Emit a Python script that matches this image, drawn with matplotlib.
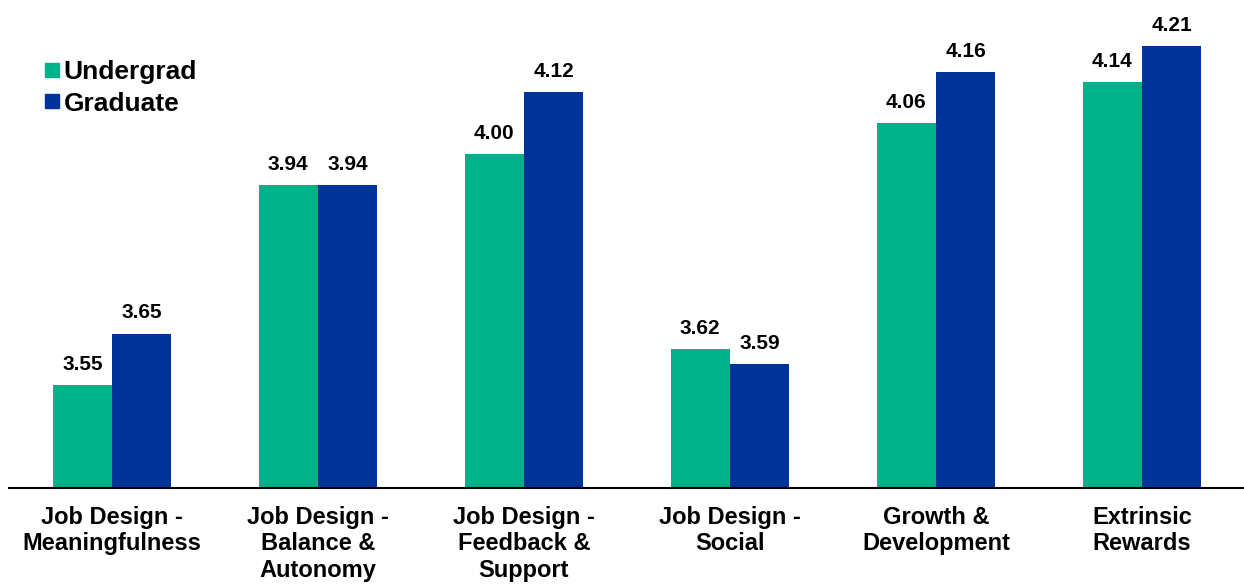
import numpy as np
import matplotlib
matplotlib.use("Agg")
import matplotlib.pyplot as plt
from matplotlib.lines import Line2D

# mean scores by dimension
categories = ["Job Design -\nMeaningfulness", "Job Design -\nBalance &\nAutonomy",
              "Job Design -\nFeedback &\nSupport", "Job Design -\nSocial",
              "Growth &\nDevelopment", "Extrinsic\nRewards"]
undergrad = [3.55, 3.94, 4.00, 3.62, 4.06, 4.14]
graduate = [3.65, 3.94, 4.12, 3.59, 4.16, 4.21]

green = "#00B189"
blue = "#003399"

plt.rcParams['font.family'] = ['Liberation Sans', 'DejaVu Sans']
plt.rcParams['font.weight'] = 'bold'

fig = plt.figure(figsize=(12.44, 5.84), dpi=100)
ax = fig.add_axes([9 / 1244, 96.5 / 584, 1240 / 1244, 487.5 / 584])

x = np.arange(len(categories))
w = 0.288
b1 = ax.bar(x - w / 2, undergrad, w, color=green)
b2 = ax.bar(x + w / 2, graduate, w, color=blue)

for bars, vals in ((b1, undergrad), (b2, graduate)):
    for r, v in zip(bars, vals):
        ax.annotate("%.2f" % v, (r.get_x() + r.get_width() / 2, v),
                    xytext=(0, 8), textcoords="offset points",
                    ha="center", va="bottom", fontsize=15, fontweight="bold")

ax.set_ylim(3.35, 4.3)
ax.set_xlim(-0.5, 5.52)
ax.set_xticks(x)
ax.set_xticklabels(categories, fontsize=17, fontweight="bold", linespacing=1.2)
ax.tick_params(axis="x", length=0, pad=13)
ax.set_yticks([])
for s in ("top", "right", "left"):
    ax.spines[s].set_visible(False)
ax.spines["bottom"].set_linewidth(1.5)

handles = [Line2D([], [], marker="s", ls="", color=green, markersize=10.5),
           Line2D([], [], marker="s", ls="", color=blue, markersize=10.5)]
ax.legend(handles, ["Undergrad", "Graduate"], loc="upper left",
          bbox_to_anchor=(0.0155, 0.903), frameon=False, handletextpad=0.05,
          handlelength=0.8, labelspacing=0.27, borderpad=0,
          prop={"size": 19, "weight": "bold"})

fig.savefig("out.png", dpi=100)
